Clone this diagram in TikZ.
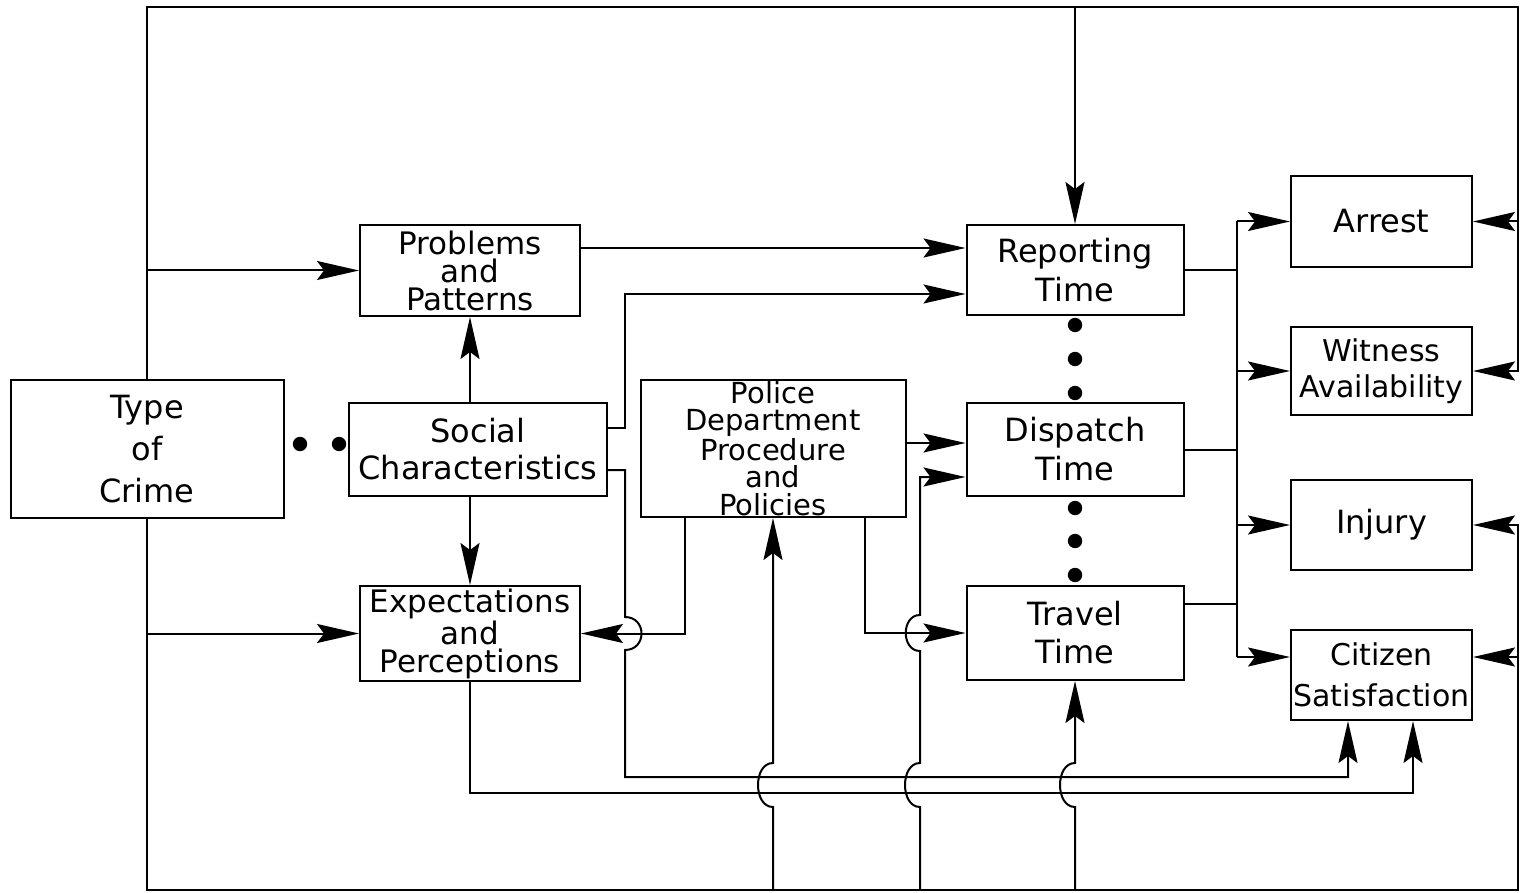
\documentclass[tikz,border=0pt]{standalone}
\usepackage{fontspec}
\setmainfont{DejaVu Sans}
\usetikzlibrary{arrows.meta}
\newcommand{\lfs}[1]{\fontsize{16pt}{#1}\selectfont}
\newcommand{\sfs}[1]{\fontsize{15pt}{#1}\selectfont}
\newcommand{\mfs}[1]{\fontsize{15.5pt}{#1}\selectfont}
\newcommand{\pfs}{\fontsize{14.5pt}{13.6pt}\selectfont}
\begin{document}
\begin{tikzpicture}[x=0.5pt,y=-0.5pt,line width=1pt,
  bx/.style={draw,line width=1pt,inner sep=0pt,align=center},
  arr/.style={-{Stealth[length=21pt,width=9.5pt,inset=3.5pt]}}]
\useasboundingbox (0,0) rectangle (1526,893);
% boxes
\node[bx,minimum width=136.5pt,minimum height=69pt,font=\lfs{21pt}] (tc) at (147,449) {Type\\of\\Crime};
\node[bx,minimum width=110pt,minimum height=45.5pt,font=\mfs{14pt}] (pp) at (470,270.5) {Problems\\and\\Patterns};
\node[bx,minimum width=129pt,minimum height=46.5pt,font=\lfs{18.5pt}] (sc) at (478,449.5) {Social\\Characteristics};
\node[bx,minimum width=110pt,minimum height=47.5pt,font=\mfs{14pt}] (ep) at (470,633.5) {Expectations\\and\\Perceptions};
\node[bx,minimum width=132.5pt,minimum height=68.5pt,font=\pfs] (pd) at (773,448.5) {Police\\Department\\Procedure\\and\\Policies};
\node[bx,minimum width=108.5pt,minimum height=45pt,font=\lfs{19.5pt}] (rt) at (1075,270) {Reporting\\Time};
\node[bx,minimum width=108.5pt,minimum height=46.5pt,font=\lfs{19.5pt}] (dt) at (1075,449.5) {Dispatch\\Time};
\node[bx,minimum width=108.5pt,minimum height=47pt,font=\lfs{19pt}] (tt) at (1075,633) {Travel\\Time};
\node[bx,minimum width=90.5pt,minimum height=45.5pt,font=\lfs{19pt}] (ar) at (1381.5,221.5) {Arrest};
\node[bx,minimum width=90.5pt,minimum height=44pt,font=\sfs{18pt}] (wa) at (1381.5,371) {Witness\\Availability};
\node[bx,minimum width=90.5pt,minimum height=45pt,font=\lfs{19pt}] (inj) at (1381.5,525) {Injury};
\node[bx,minimum width=90.5pt,minimum height=45pt,font=\sfs{20.5pt}] (cs) at (1381.5,675) {Citizen\\Satisfaction};
% dots
\foreach \p in {(300,444),(339,444),(1075,325),(1075,359),(1075,393),(1075,508),(1075,541),(1075,575)}
  \fill \p circle[radius=3.6pt];
% helper coordinates
\coordinate (T) at (0,7);
\coordinate (B) at (0,890);
\coordinate (R) at (1518,0);
\coordinate (bus) at (1237,0);
\coordinate (sx) at (625,0);
\coordinate (dx) at (920,0);
\coordinate (H1) at (0,777);
\coordinate (H2) at (0,793);
\coordinate (rt1) at ([yshift=11pt]rt.west);
\coordinate (rt2) at ([yshift=-12pt]rt.west);
\coordinate (sc1) at ([yshift=10.75pt]sc.east);
\coordinate (sc2) at ([yshift=-10.25pt]sc.east);
\coordinate (dt1) at ([yshift=3.25pt]dt.west);
\coordinate (dt2) at ([yshift=-13.75pt]dt.west);
\coordinate (pd1) at ([xshift=-44pt]pd.south);
\coordinate (pd2) at ([xshift=46pt]pd.south);
\coordinate (tt1) at ([yshift=14.5pt]tt.east);
\coordinate (csL) at ([yshift=9pt]cs.west);
\coordinate (csR) at ([yshift=9pt]cs.east);
\coordinate (cs1) at ([xshift=-16.75pt]cs.south);
\coordinate (cs2) at ([xshift=15.75pt]cs.south);
% outer loop, top
\draw[arr] (tc.north) |- (R |- T) |- (wa.east);
\draw[arr] (rt.north |- T) -- (rt.north);
\draw[arr] (ar.east -| R) -- (ar.east);
\draw[arr] (pp.west -| tc.north) -- (pp.west);
% outer loop, bottom
\draw[arr] (tc.south) |- (R |- B) |- (inj.east);
\draw[arr] (csR -| R) -- (csR);
\draw[arr] (ep.west -| tc.south) -- (ep.west);
\draw[arr] (pd.south |- B) -- (773,807) .. controls (753,807) and (753,763) .. (773,763) -- (pd.south);
\draw[arr] (dx |- B) -- (920,807) .. controls (900,807) and (900,763) .. (920,763)
  -- (920,651) .. controls (901,651) and (901,615) .. (920,615) -- (dx |- dt2) -- (dt2);
\draw[arr] (tt.south |- B) -- (1075,807) .. controls (1055,807) and (1055,763) .. (1075,763) -- (tt.south);
% social characteristics
\draw[arr] (sc.north -| pp.south) -- (pp.south);
\draw[arr] (sc.south -| ep.north) -- (ep.north);
\draw[arr] (sc1) -| (sx |- rt2) -- (rt2);
\draw[arr] (sc2) -- (sx |- sc2) -- (625,617) .. controls (647,617) and (647,650) .. (625,650) -- (sx |- H1) -| (cs1);
\draw[arr] (ep.south) |- (cs2 |- H2) -- (cs2);
% problems, police
\draw[arr] (pp.east |- rt1) -- (rt1);
\draw[arr] (pd.east |- dt1) -- (dt1);
\draw[arr] (pd1) |- (ep.east);
\draw[arr] (pd2) |- (tt.west);
% bus to outcomes
\draw (rt.east) -- (rt.east -| bus);
\draw (dt.east) -- (dt.east -| bus);
\draw (tt1) -- (tt1 -| bus);
\draw (ar.west -| bus) -- (csL -| bus);
\draw[arr] (ar.west -| bus) -- (ar.west);
\draw[arr] (wa.west -| bus) -- (wa.west);
\draw[arr] (inj.west -| bus) -- (inj.west);
\draw[arr] (csL -| bus) -- (csL);
\end{tikzpicture}
\end{document}
